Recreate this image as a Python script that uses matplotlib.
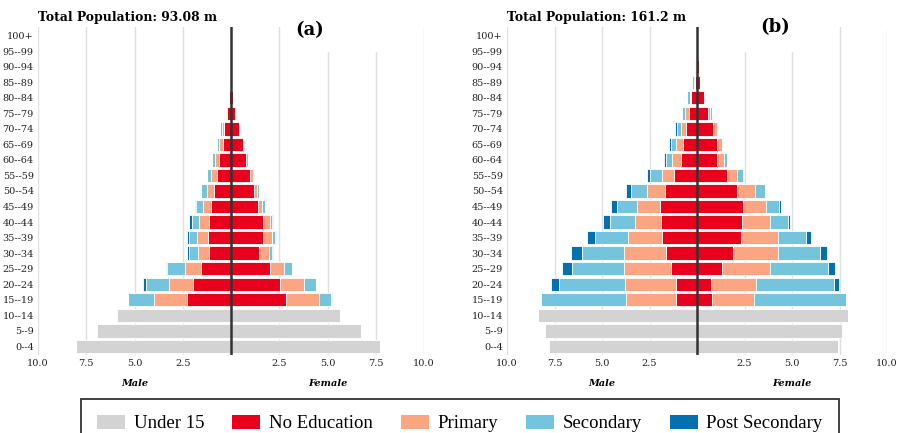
import matplotlib

matplotlib.use("Agg")
import matplotlib.pyplot as plt  # noqa: E402
import numpy as np  # noqa: E402
from matplotlib.patches import Patch, Rectangle  # noqa: E402

AGE_GROUPS = ["0--4", "5--9", "10--14", "15--19", "20--24", "25--29", "30--34",
              "35--39", "40--44", "45--49", "50--54", "55--59", "60--64", "65--69",
              "70--74", "75--79", "80--84", "85--89", "90--94", "95--99", "100+"]
CATEGORIES = ["Under 15", "No Education", "Primary", "Secondary", "Post Secondary"]
COLORS = ["#d3d3d3", "#e8001c", "#fca582", "#74c4de", "#0570b0"]

# (a) total 93.08 m -- under-15 values for 0-4, 5-9, 10-14; education for 15-19 .. 100+
A_TOTAL = "93.08"
A_MALE_U15 = [8.03, 6.93, 5.93]
A_MALE_NOEDU = [2.28, 1.99, 1.54, 1.12, 1.18, 1.12, 1.05, 0.88, 0.74, 0.61, 0.44, 0.38, 0.20, 0.12, 0.03, 0, 0, 0]
A_MALE_PRIM = [1.69, 1.20, 0.84, 0.61, 0.59, 0.56, 0.41, 0.38, 0.31, 0.23, 0.18, 0.10, 0.03, 0, 0, 0, 0, 0]
A_MALE_SEC = [1.39, 1.24, 0.95, 0.47, 0.43, 0.36, 0.33, 0.27, 0.21, 0.16, 0.10, 0.07, 0.03, 0, 0, 0, 0, 0]
A_MALE_POST = [0, 0.11, 0.02, 0.09, 0.09, 0.12, 0.05, 0, 0, 0, 0, 0, 0, 0, 0, 0, 0, 0]
A_FEMALE_U15 = [7.74, 6.71, 5.64]
A_FEMALE_NOEDU = [2.86, 2.55, 2.02, 1.43, 1.64, 1.64, 1.40, 1.20, 0.98, 0.78, 0.60, 0.39, 0.22, 0.10, 0.02, 0, 0, 0]
A_FEMALE_PRIM = [1.69, 1.21, 0.74, 0.52, 0.46, 0.38, 0.22, 0.17, 0.14, 0.08, 0.03, 0, 0, 0, 0, 0, 0, 0]
A_FEMALE_SEC = [0.65, 0.64, 0.38, 0.20, 0.19, 0.13, 0.12, 0.09, 0.07, 0.09, 0.06, 0.07, 0.04, 0, 0, 0, 0, 0]
A_FEMALE_POST = [0, 0, 0, 0.02, 0.02, 0.02, 0, 0, 0, 0, 0, 0, 0, 0, 0, 0, 0, 0]

# (b) total 161.2 m
B_TOTAL = "161.2"
B_MALE_U15 = [7.79, 8.01, 8.36]
B_MALE_NOEDU = [1.08, 1.12, 1.35, 1.64, 1.86, 1.90, 1.95, 1.69, 1.22, 0.86, 0.74, 0.60, 0.44, 0.31, 0.13, 0.06, 0, 0]
B_MALE_PRIM = [2.64, 2.65, 2.50, 2.18, 1.77, 1.38, 1.21, 0.92, 0.64, 0.43, 0.38, 0.26, 0.18, 0.08, 0.05, 0.03, 0, 0]
B_MALE_SEC = [4.50, 3.51, 2.72, 2.23, 1.73, 1.30, 1.04, 0.87, 0.64, 0.35, 0.26, 0.19, 0.17, 0.12, 0.09, 0.08, 0, 0]
B_MALE_POST = [0, 0.38, 0.56, 0.57, 0.45, 0.37, 0.31, 0.25, 0.12, 0.08, 0.10, 0.09, 0, 0, 0, 0, 0, 0]
B_FEMALE_U15 = [7.43, 7.63, 7.97]
B_FEMALE_NOEDU = [0.78, 0.73, 1.29, 1.90, 2.29, 2.35, 2.41, 2.08, 1.56, 1.05, 1.03, 0.82, 0.60, 0.39, 0.18, 0.10, 0, 0]
B_FEMALE_PRIM = [2.24, 2.39, 2.56, 2.35, 1.96, 1.50, 1.23, 0.99, 0.56, 0.38, 0.27, 0.21, 0.10, 0.03, 0.02, 0, 0, 0]
B_FEMALE_SEC = [4.81, 4.07, 3.03, 2.23, 1.51, 0.92, 0.70, 0.49, 0.31, 0.13, 0.09, 0.09, 0.07, 0.05, 0.07, 0.02, 0, 0]
B_FEMALE_POST = [0, 0.30, 0.38, 0.35, 0.22, 0.15, 0.10, 0, 0, 0, 0, 0, 0, 0, 0, 0, 0, 0]

X_TICKS = [-10, -7.5, -5, -2.5, 0, 2.5, 5, 7.5, 10]
X_TICK_LABELS = ["10.0", "7.5", "5.0", "2.5", "", "2.5", "5.0", "7.5", "10.0"]

SERIF = "DejaVu Serif"


def full_series(u15, noedu, prim, sec, post):
    """Pad the per-category lists to the 21 age groups."""
    pad_old = [0] * (len(AGE_GROUPS) - len(u15))
    pad_young = [0] * len(u15)
    return [np.array(list(u15) + pad_old)] + [np.array(pad_young + list(v)) for v in (noedu, prim, sec, post)]


def draw_pyramid(ax, male, female):
    y = np.arange(len(AGE_GROUPS))
    for sign, parts in ((-1, male), (1, female)):
        cum = np.zeros(len(AGE_GROUPS))
        for vals, col in zip(parts, COLORS):
            ax.barh(y, sign * vals, left=sign * cum, height=0.86, color=col,
                    edgecolor="white", linewidth=0.6, zorder=2)
            cum = cum + vals
    ax.axvline(0, color="#333333", lw=1.8, zorder=5)
    ax.set_xlim(-10, 10)
    ax.set_ylim(-0.55, 20.55)
    ax.set_yticks(y)
    ax.set_yticklabels(AGE_GROUPS, family=SERIF, fontsize=7, color="#222222")
    ax.set_xticks(X_TICKS)
    ax.set_xticklabels(X_TICK_LABELS, family=SERIF, fontsize=7, color="#222222")
    ax.tick_params(length=0, pad=3)
    ax.grid(axis="x", color="#e0e0e0", lw=1)
    ax.set_axisbelow(True)
    for s in ax.spines.values():
        s.set_visible(False)
    for xpos, lab in ((-5, "Male"), (5, "Female")):
        ax.text(xpos, -2.1, lab, ha="center", va="top", family=SERIF,
                style="italic", fontweight="bold", fontsize=7)


fig = plt.figure(figsize=(9, 4.33), dpi=100)
W, H = 900, 433
panels = [
    (38, 386, A_TOTAL, "(a)", 310, 30, (300, 400),
     full_series(A_MALE_U15, A_MALE_NOEDU, A_MALE_PRIM, A_MALE_SEC, A_MALE_POST),
     full_series(A_FEMALE_U15, A_FEMALE_NOEDU, A_FEMALE_PRIM, A_FEMALE_SEC, A_FEMALE_POST)),
    (507, 380, B_TOTAL, "(b)", 775, 27, (720, 820),
     full_series(B_MALE_U15, B_MALE_NOEDU, B_MALE_PRIM, B_MALE_SEC, B_MALE_POST),
     full_series(B_FEMALE_U15, B_FEMALE_NOEDU, B_FEMALE_PRIM, B_FEMALE_SEC, B_FEMALE_POST)),
]
for left_px, width_px, total, tag, tag_x, tag_y, (cover_l, cover_r), male, female in panels:
    ax = fig.add_axes([left_px / W, (H - 355) / H, width_px / W, 328 / H])
    draw_pyramid(ax, male, female)
    fig.patches.append(Rectangle((cover_l / W, 1 - 52 / H), (cover_r - cover_l) / W, 52 / H,
                                 transform=fig.transFigure, facecolor="white", edgecolor="none",
                                 zorder=3))
    fig.text(left_px / W, 1 - 17 / H, f"Total Population: {total} m", ha="left", va="center",
             family=SERIF, fontweight="bold", fontsize=8.9, zorder=6)
    fig.text(tag_x / W, 1 - tag_y / H, tag, ha="center", va="center",
             family=SERIF, fontweight="bold", fontsize=13, zorder=6)

handles = [Patch(facecolor=c, edgecolor="none") for c in COLORS]
leg = fig.legend(handles, CATEGORIES, loc="upper left", bbox_to_anchor=(81 / W, 1 - 399 / H),
                 ncol=5, frameon=True, fancybox=False, edgecolor="black",
                 prop={"family": "Liberation Serif", "size": 13.5},
                 handlelength=1.5, handleheight=0.75, handletextpad=0.45,
                 columnspacing=1.5, borderpad=0.85, borderaxespad=0)
leg.get_frame().set_linewidth(1.3)

fig.savefig("out.png", dpi=100)
